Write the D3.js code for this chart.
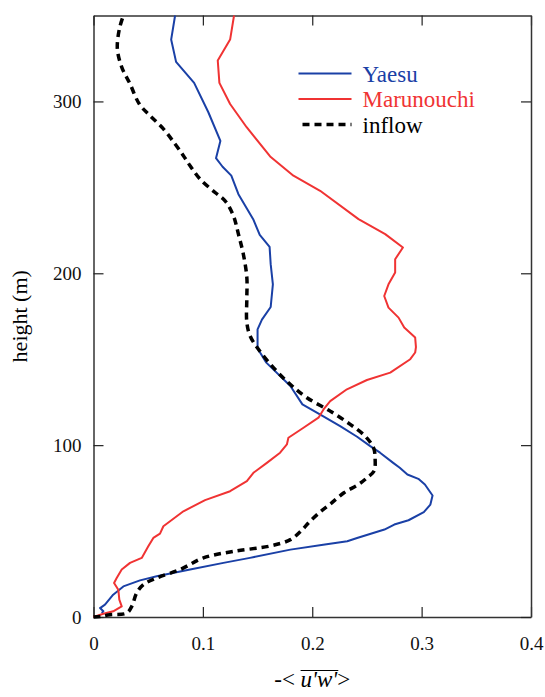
<!DOCTYPE html>
<html>
<head>
<meta charset="utf-8">
<script src="https://cdn.jsdelivr.net/npm/d3@7"></script>
<style>
  body { margin: 0; background: #fff; }
  svg text { font-family: "Liberation Serif", "Times New Roman", Tinos, "DejaVu Serif", serif !important; }
</style>
</head>
<body>
<script>
var W = 545, H = 697;
var margin = {top: 15.5, right: 14, bottom: 80, left: 93.5};
var w = W - margin.left - margin.right;   // 437.5
var h = H - margin.top - margin.bottom;   // 601.5
var SERIF = "'Liberation Serif', 'Times New Roman', Tinos, 'DejaVu Serif', serif";

// heights (m), bottom to top, and -<u'w'> values
var yaesuZ = [2.3, 3.3, 5.2, 7.2, 13, 17.8, 21.3, 23.7, 27.6, 31.5, 34.4, 39.2, 42.1, 44.1, 46, 50.9, 53.8, 56.3, 61, 65.4, 70.7, 77.1, 80.4, 82.9, 86.8, 89.7, 95.6, 99.4, 104.9, 111.1, 117.9, 123.7, 134.4, 148, 156.2, 167.4, 173, 180.4, 193.6, 205.3, 215.4, 222.4, 231.5, 246, 256.8, 262, 267, 277, 293.7, 310.8, 323, 336, 350];
var yaesuV = [0.0075, 0.009, 0.006, 0.0105, 0.018, 0.0273, 0.0425, 0.0578, 0.0883, 0.1188, 0.143, 0.18, 0.21, 0.232, 0.241, 0.266, 0.275, 0.288, 0.302, 0.308, 0.310, 0.303, 0.297, 0.287, 0.280, 0.274, 0.262, 0.253, 0.241, 0.2255, 0.207, 0.191, 0.18, 0.158, 0.150, 0.150, 0.154, 0.162, 0.164, 0.162, 0.161, 0.152, 0.146, 0.1325, 0.126, 0.118, 0.112, 0.116, 0.105, 0.092, 0.0755, 0.071, 0.0746];

var maruZ = [0, 1.9, 3.3, 6.2, 10.1, 15.9, 19.8, 22.7, 27.6, 31.5, 34.4, 41.1, 46, 48.5, 52.8, 55.7, 61.5, 68, 73.2, 79, 83.9, 89.7, 95.6, 100.4, 104.3, 110.1, 116, 120.8, 125.6, 132.5, 137.9, 142.2, 150, 153.9, 157, 162.6, 168.4, 174.2, 180, 186.8, 193.6, 200.5, 208.2, 215, 222.8, 231.5, 248, 256.8, 268, 285, 298.5, 310.8, 323.8, 336, 350];
var maruV = [0, 0.009, 0.018, 0.0258, 0.0236, 0.0227, 0.0188, 0.0212, 0.0258, 0.0334, 0.0441, 0.0501, 0.0547, 0.0608, 0.0639, 0.070, 0.0822, 0.102, 0.1249, 0.1402, 0.1462, 0.1585, 0.1706, 0.1768, 0.1782, 0.192, 0.2057, 0.2103, 0.2164, 0.2317, 0.25, 0.2713, 0.2896, 0.2941, 0.2948, 0.2941, 0.2841, 0.2789, 0.2697, 0.2658, 0.2697, 0.2758, 0.2758, 0.2829, 0.2667, 0.2423, 0.2072, 0.1828, 0.1615, 0.140, 0.1249, 0.1151, 0.1136, 0.1249, 0.1285];

var inflowZ = [0, 0.3, 1.3, 2.3, 6.2, 14, 18.8, 22.7, 27.6, 34.4, 38.2, 41.3, 45, 49.9, 55.7, 61.5, 66, 72.3, 77, 81, 85, 91.7, 98.5, 105.2, 112.1, 119.8, 127.6, 135.4, 145.1, 155.8, 163.5, 171.3, 185.9, 197.5, 211.1, 222.8, 233.5, 242.2, 247, 254.8, 262.6, 268.4, 275.2, 284, 291.7, 298.5, 310.2, 320, 330.6, 342, 350];
var inflowV = [0, 0.006, 0.015, 0.0304, 0.035, 0.0395, 0.0456, 0.0578, 0.0791, 0.1005, 0.128, 0.1615, 0.18, 0.1895, 0.198, 0.208, 0.217, 0.229, 0.242, 0.25, 0.2565, 0.2575, 0.256, 0.2484, 0.2347, 0.2164, 0.1951, 0.1798, 0.1645, 0.1508, 0.1432, 0.1402, 0.1402, 0.1402, 0.137, 0.1325, 0.1279, 0.1203, 0.1112, 0.0974, 0.0883, 0.0822, 0.0746, 0.0639, 0.0517, 0.0419, 0.0334, 0.0258, 0.0218, 0.0236, 0.0273];

var xTicks = [0, 0.1, 0.2, 0.3, 0.4];
var yTicks = [0, 100, 200, 300];
var seriesNames = ["Yaesu", "Marunouchi", "inflow"];
var seriesColors = ["#1a40a6", "#f03333", "#000"];

var svg = d3.select("body")
    .append("svg")
    .attr("width", W)
    .attr("height", H)
    .append("g")
    .attr("transform", "translate(" + margin.left + "," + margin.top + ")");

var xScale = d3.scaleLinear().domain([0, 0.4]).range([0, w]);
var yScale = d3.scaleLinear().domain([0, 350]).range([h, 0]);

// axes, ticks pointing inward
var fmt = function(d) { return d === 0 ? "0" : d3.format(".1f")(d); };

var xAxis = d3.axisBottom(xScale).tickValues(xTicks).tickFormat(fmt)
    .tickSizeInner(-10).tickSizeOuter(0).tickPadding(20);
var yAxis = d3.axisLeft(yScale).tickValues(yTicks)
    .tickSizeInner(-10).tickSizeOuter(0).tickPadding(12);
var xTop = d3.axisTop(xScale).tickValues(xTicks).tickFormat("")
    .tickSizeInner(-10).tickSizeOuter(0);
var yRight = d3.axisRight(yScale).tickValues(yTicks).tickFormat("")
    .tickSizeInner(-10).tickSizeOuter(0);

function styleAxis(g) {
    g.attr("font-family", SERIF).attr("font-size", 19);
    g.select(".domain").attr("stroke", "#333").attr("stroke-width", 1.5);
    g.selectAll(".tick line").attr("stroke", "#222").attr("stroke-width", 1.2);
    g.selectAll(".tick text").attr("fill", "#111");
}

svg.append("g").attr("transform", "translate(0," + h + ")").call(xAxis).call(styleAxis);
svg.append("g").call(yAxis).call(styleAxis);
svg.append("g").call(xTop).call(styleAxis);
svg.append("g").attr("transform", "translate(" + w + ",0)").call(yRight).call(styleAxis);

// profiles
function toPoints(zs, vs) {
    return zs.map(function(z, i) { return [vs[i], z]; });
}

var line = d3.line()
    .x(function(d) { return xScale(d[0]); })
    .y(function(d) { return yScale(d[1]); });

var smooth = d3.line()
    .x(function(d) { return xScale(d[0]); })
    .y(function(d) { return yScale(d[1]); })
    .curve(d3.curveCatmullRom);

svg.append("path")
    .datum(toPoints(yaesuZ, yaesuV))
    .attr("d", line)
    .attr("fill", "none")
    .attr("stroke", seriesColors[0])
    .attr("stroke-width", 2)
    .attr("stroke-linejoin", "round");

svg.append("path")
    .datum(toPoints(maruZ, maruV))
    .attr("d", line)
    .attr("fill", "none")
    .attr("stroke", seriesColors[1])
    .attr("stroke-width", 2)
    .attr("stroke-linejoin", "round");

svg.append("path")
    .datum(toPoints(inflowZ, inflowV))
    .attr("d", smooth)
    .attr("fill", "none")
    .attr("stroke", seriesColors[2])
    .attr("stroke-width", 3.5)
    .attr("stroke-dasharray", "7,5");

// legend
var legend = svg.append("g").attr("transform", "translate(205,58)");
seriesNames.forEach(function(name, i) {
    var y = i * 25.5;
    legend.append("line")
        .attr("x1", i === 2 ? 4 : 0).attr("x2", 53)
        .attr("y1", y).attr("y2", y)
        .attr("stroke", seriesColors[i])
        .attr("stroke-width", i === 2 ? 3.5 : 2)
        .attr("stroke-dasharray", i === 2 ? "7,5" : null);
    legend.append("text")
        .attr("x", 64).attr("y", y + 8)
        .attr("fill", i === 2 ? "#000" : seriesColors[i])
        .attr("font-family", SERIF)
        .attr("font-size", 23)
        .text(name);
});

// axis labels
svg.append("text")
    .attr("transform", "translate(" + (27 - margin.left) + "," + (h / 2) + ") rotate(-90)")
    .attr("text-anchor", "middle")
    .attr("font-family", SERIF)
    .attr("font-size", 22)
    .attr("fill", "#000")
    .text("height (m)");

var xl = svg.append("text")
    .attr("x", w / 2)
    .attr("y", h + 70)
    .attr("text-anchor", "middle")
    .attr("font-family", SERIF)
    .attr("font-size", 23)
    .attr("fill", "#000");
xl.append("tspan").text("-< ");
xl.append("tspan").attr("font-style", "italic").text("u'w'");
xl.append("tspan").text(">");

// overline over u'w'
var node = xl.node();
var s = node.getStartPositionOfChar(3);
var e = node.getEndPositionOfChar(6);
svg.append("line")
    .attr("x1", s.x).attr("x2", e.x + 1)
    .attr("y1", h + 53.5).attr("y2", h + 53.5)
    .attr("stroke", "#000").attr("stroke-width", 1.2);
</script>
</body>
</html>
